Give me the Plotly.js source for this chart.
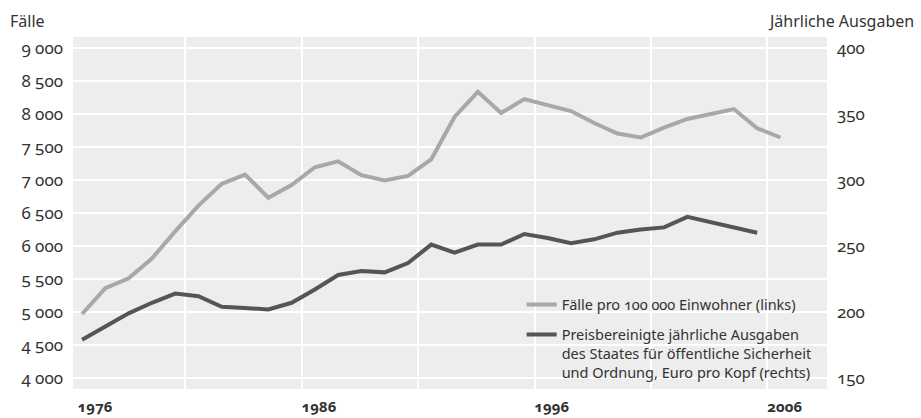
<!DOCTYPE html>
<html><head><meta charset="utf-8">
<script src="https://cdn.plot.ly/plotly-3.0.1.min.js"></script>
<style>
html,body{margin:0;padding:0;background:#fff;}
#chart{width:921px;height:418px;}
.main-svg text{font-variant-numeric:oldstyle-nums;font-feature-settings:"onum" 1;}
</style></head><body><div id="chart"></div>
<script>
// ---- data ----
const caseYears = [1976,1977,1978,1979,1980,1981,1982,1983,1984,1985,1986,1987,1988,1989,1990,1991,1992,1993,1994,1995,1996,1997,1998,1999,2000,2001,2002,2003,2004,2005,2006];
const cases = [4970,5360,5510,5810,6220,6610,6940,7080,6730,6920,7190,7280,7070,6990,7060,7310,7950,8330,8010,8220,8130,8040,7860,7700,7640,7790,7920,8000,8070,7780,7640];
const spendingYears = [1976,1977,1978,1979,1980,1981,1982,1983,1984,1985,1986,1987,1988,1989,1990,1991,1992,1993,1994,1995,1996,1997,1998,1999,2000,2001,2002,2005];
const spending = [179,189,199,207,214,212,204,203,202,207,217,228,231,230,237,251,245,251,251,259,256,252,255,260,262.5,264,272,260];
const leftTickValues = [4000,4500,5000,5500,6000,6500,7000,7500,8000,8500,9000];
const leftTickLabels = ['4 000','4 500','5 000','5 500','6 000','6 500','7 000','7 500','8 000','8 500','9 000'];
const rightTickValues = [150,200,250,300,350,400];
const rightTickLabels = ['150','200','250','300','350','400'];
const xTickYears = [1976,1986,1996,2006];
const xTickLabels = ['1976','1986','1996','2006'];
const gridYears = [1980,1985,1990,1995,2000,2005];
const leftTitle = 'Fälle';
const rightTitle = 'Jährliche Ausgaben';
const casesName = 'Fälle pro 100 000 Einwohner (links)';
const spendingName = 'Preisbereinigte jährliche Ausgaben<br>des Staates für öffentliche Sicherheit<br>und Ordnung, Euro pro Kopf (rechts)';

// ---- styling ----
const FONT = 'Noto Sans, Open Sans, sans-serif';
const TXT = '#333333';
const xRange = [1975.61, 2008.0];
const yRange = [3836, 9160];
const y2Range = [150 + (yRange[0]-4000)/20, 150 + (yRange[1]-4000)/20];
const labelShift = xTickYears.map((y,i)=> i===0 ? 0.55 : 0.18);
const gridShift = 0.44;

const traces = [
  {x: caseYears, y: cases, type:'scatter', mode:'lines', name: casesName,
   line:{color:'#a8a8a8', width:4}, yaxis:'y', legendgroup:'a', hoverinfo:'skip'},
  {x: spendingYears, y: spending, type:'scatter', mode:'lines', name: spendingName,
   line:{color:'#555555', width:4}, yaxis:'y2', legendgroup:'b', hoverinfo:'skip'}
];

const layout = {
  width:921, height:418,
  margin:{l:73, r:94, t:37, b:29, pad:0},
  paper_bgcolor:'#ffffff', plot_bgcolor:'#ededed',
  font:{family:FONT, color:TXT, size:15},
  showlegend:true,
  legend:{x:0.595, y:0.285, xanchor:'left', yanchor:'top', bgcolor:'rgba(0,0,0,0)',
          valign:'top', traceorder:'grouped', tracegroupgap:8,
          font:{family:FONT, size:14.5, color:TXT}},
  xaxis:{range:xRange, tickmode:'array', tickvals: xTickYears.map((y,i)=>y+labelShift[i]), ticktext: xTickLabels,
         showgrid:false, zeroline:false, showline:false, ticks:'', ticklabelstandoff:7,
         tickfont:{family:FONT, size:15, weight:'bold', color:TXT},
         minor:{tickmode:'array', tickvals: gridYears.map(y=>y+gridShift), showgrid:true, gridcolor:'#ffffff', gridwidth:2, ticks:''}},
  yaxis:{range:yRange, tickmode:'array', tickvals:leftTickValues, ticktext:leftTickLabels,
         showgrid:true, gridcolor:'#ffffff', gridwidth:2, zeroline:false, showline:false, ticks:'',
         ticklabelstandoff:9, tickfont:{family:FONT, size:17, color:TXT}},
  yaxis2:{range:y2Range, overlaying:'y', side:'right', tickmode:'array', tickvals:rightTickValues, ticktext:rightTickLabels,
          showgrid:false, zeroline:false, showline:false, ticks:'', ticklabelstandoff:9,
          tickfont:{family:FONT, size:17, color:TXT}},
  annotations:[
    {text:leftTitle, xref:'paper', yref:'paper', x:(8-73)/754, y:1+(37-21)/352, xanchor:'left', yanchor:'middle', showarrow:false, font:{family:FONT, size:16, color:TXT}},
    {text:rightTitle, xref:'paper', yref:'paper', x:(916-73)/754, y:1+(37-21)/352, xanchor:'right', yanchor:'middle', showarrow:false, font:{family:FONT, size:16, color:TXT}}
  ]
};
Plotly.newPlot('chart', traces, layout, {staticPlot:true, displayModeBar:false});
</script></body></html>
